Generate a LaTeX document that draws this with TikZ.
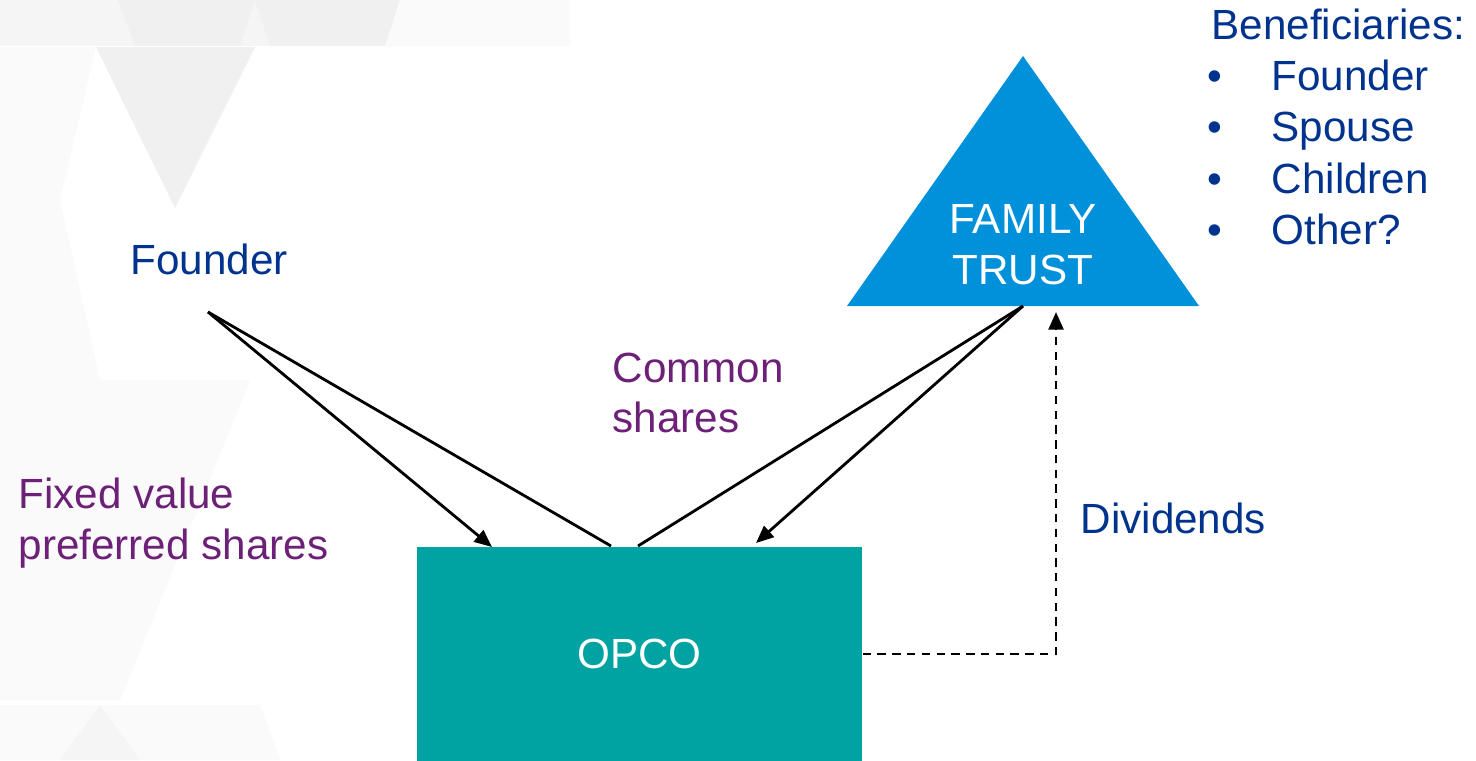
\documentclass[tikz,border=0pt]{standalone}
\usepackage{fontspec}
\setmainfont{Liberation Sans}
\usetikzlibrary{arrows.meta}
\definecolor{navytext}{HTML}{00338D}
\definecolor{plumtext}{HTML}{6D2077}
\definecolor{opcoteal}{HTML}{00A3A1}
\definecolor{trustblue}{HTML}{0091DA}
\definecolor{bgA}{HTML}{F5F5F5}
\definecolor{bgB}{HTML}{F0F0F0}
\definecolor{bgC}{HTML}{FAFAFA}
\tikzset{
  lbl/.style={inner sep=0pt, font=\fontsize{12}{14.5}\selectfont},
  bluetext/.style={lbl, text=navytext},
  purpletext/.style={lbl, text=plumtext},
  link/.style={line width=0.8pt, black},
  arr/.style={link, -{Triangle[length=5pt,width=4.2pt]}},
  dashlink/.style={arr, dash pattern=on 2.4pt off 1.8pt},
}
\begin{document}
\begin{tikzpicture}[x=0.01cm,y=-0.01cm]
\useasboundingbox (0,0) rectangle (1476,760);
\fill[white] (0,0) rectangle (1476,760);

% faint triangular backdrop
\fill[bgA] (0,0) rectangle (570,46);
\fill[bgB] (118,0) -- (255,0) -- (240,46) -- (135,46) -- cycle;
\fill[bgB] (255,0) -- (400,0) -- (385,46) -- (270,46) -- cycle;
\fill[bgC] (400,0) -- (570,0) -- (570,46) -- (385,46) -- cycle;
\fill[bgB] (96,47) -- (255,47) -- (175,208) -- cycle;
\fill[bgC] (0,47) -- (96,47) -- (60,200) -- (0,208) -- cycle;
\fill[bgC] (0,208) -- (60,200) -- (100,380) -- (0,380) -- cycle;
\fill[bgC] (0,380) -- (250,380) -- (120,700) -- (0,700) -- cycle;
\fill[bgC] (0,705) -- (260,705) -- (280,760) -- (0,760) -- cycle;
\fill[bgA] (60,760) -- (100,705) -- (140,760) -- cycle;

% family trust triangle
\coordinate (apex) at (1023,56);
\coordinate (baseL) at (847,306);
\coordinate (baseR) at (1199,306);
\fill[trustblue] (apex) -- (baseR) -- (baseL) -- cycle;
\node[lbl, text=white, anchor=base] (trustA) at (1023,233) {FAMILY};
\node[lbl, text=white, anchor=base] (trustB) at (1023,284) {TRUST};

% operating company
\node[fill=opcoteal, inner sep=0pt, anchor=north west,
      minimum width=4.45cm, minimum height=2.14cm,
      text=white, font=\fontsize{12}{14.5}\selectfont] (opco) at (416,546) {OPCO};

% labels
\node[bluetext, anchor=base west] (founder) at (130,274) {Founder};
\node[purpletext, anchor=base west] (commonA) at (612,382) {Common};
\node[purpletext, anchor=base west] (commonB) at (612,432) {shares};
\node[purpletext, anchor=base west] (fixedA) at (18,508) {Fixed value};
\node[purpletext, anchor=base west] (fixedB) at (18,559) {preferred shares};
\node[bluetext, anchor=base west] (dividends) at (1080,533) {Dividends};

% beneficiaries list
\node[bluetext, anchor=base west] (benef) at (1211,39) {Beneficiaries:};
\foreach \y/\t [count=\i] in {90/Founder,141/Spouse,193/Children,244/Other?}{
  \node[bluetext, anchor=base west] (bul\i) at (1207,\y) {\textbullet};
  \node[bluetext, anchor=base west] (ben\i) at (1271,\y) {\t};
}

% connector end points
\coordinate (founderpt) at (208,312);
\coordinate (trustpt) at (1023,306);
\coordinate (opcoA) at (492,547);
\coordinate (opcoB) at (611,546);
\coordinate (opcoC) at (638,546);
\coordinate (opcoD) at (756,543);
\coordinate (divcorner) at (1056,654);
\coordinate (divtop) at (1056,312);

\draw[arr] (founderpt) -- (opcoA);
\draw[link] (founderpt) -- (opcoB);
\draw[link] (trustpt) -- (opcoC);
\draw[arr] (trustpt) -- (opcoD);
\draw[dashlink] (opco.east |- divcorner) -- (divcorner) -- (divtop);
\end{tikzpicture}
\end{document}
